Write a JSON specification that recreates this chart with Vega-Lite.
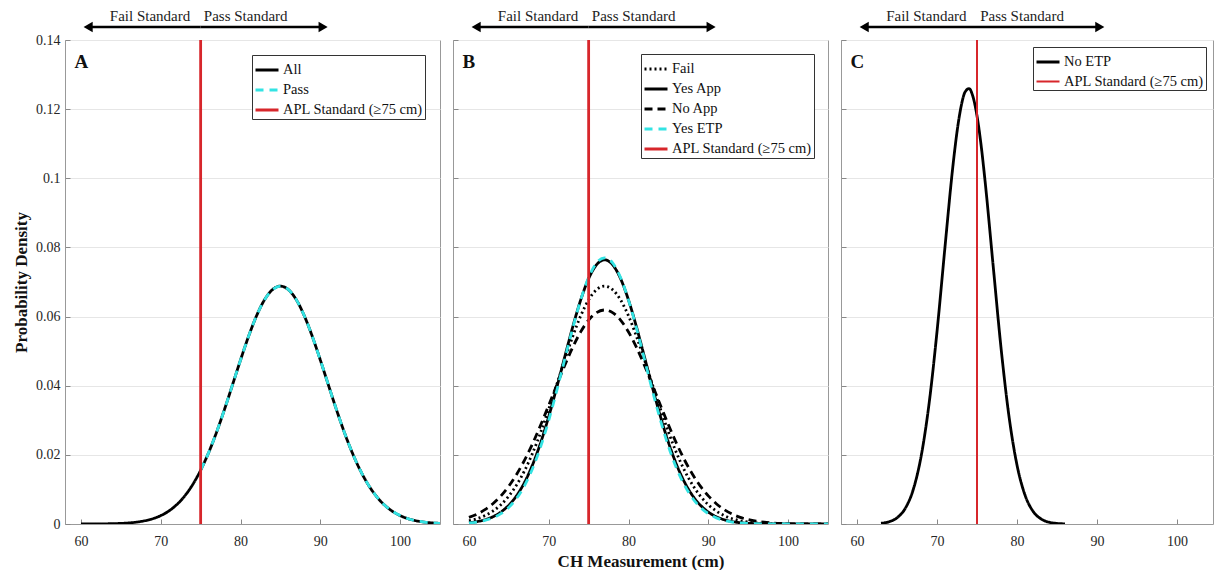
{
"$schema":"https://vega.github.io/schema/vega-lite/v6.json",
"autosize":{"type":"pad"},
"padding":{"left":12,"top":8,"right":0,"bottom":0},
"background":"white",
"datasets":{"one":[{}]},
"data":{"values":[
{"panel":"A","series":"All","x":60,"y":0.00001},{"panel":"A","series":"All","x":61,"y":0.000013},{"panel":"A","series":"All","x":62,"y":0.000026},{"panel":"A","series":"All","x":63,"y":0.000052},{"panel":"A","series":"All","x":64,"y":0.0001},{"panel":"A","series":"All","x":65,"y":0.00018},{"panel":"A","series":"All","x":66,"y":0.00032},{"panel":"A","series":"All","x":67,"y":0.00056},{"panel":"A","series":"All","x":68,"y":0.00094},{"panel":"A","series":"All","x":69,"y":0.00153},{"panel":"A","series":"All","x":70,"y":0.00243},{"panel":"A","series":"All","x":71,"y":0.00374},{"panel":"A","series":"All","x":72,"y":0.00558},{"panel":"A","series":"All","x":73,"y":0.00809},{"panel":"A","series":"All","x":74,"y":0.01139},{"panel":"A","series":"All","x":75,"y":0.01557},{"panel":"A","series":"All","x":76,"y":0.02064},{"panel":"A","series":"All","x":77,"y":0.02658},{"panel":"A","series":"All","x":78,"y":0.03322},{"panel":"A","series":"All","x":79,"y":0.0403},{"panel":"A","series":"All","x":80,"y":0.04744},{"panel":"A","series":"All","x":81,"y":0.05423},{"panel":"A","series":"All","x":82,"y":0.06018},{"panel":"A","series":"All","x":83,"y":0.06483},{"panel":"A","series":"All","x":84,"y":0.06778},{"panel":"A","series":"All","x":85,"y":0.0688},{"panel":"A","series":"All","x":86,"y":0.06778},{"panel":"A","series":"All","x":87,"y":0.06483},{"panel":"A","series":"All","x":88,"y":0.06018},{"panel":"A","series":"All","x":89,"y":0.05423},{"panel":"A","series":"All","x":90,"y":0.04744},{"panel":"A","series":"All","x":91,"y":0.0403},{"panel":"A","series":"All","x":92,"y":0.03322},{"panel":"A","series":"All","x":93,"y":0.02658},{"panel":"A","series":"All","x":94,"y":0.02064},{"panel":"A","series":"All","x":95,"y":0.01557},{"panel":"A","series":"All","x":96,"y":0.01139},{"panel":"A","series":"All","x":97,"y":0.00809},{"panel":"A","series":"All","x":98,"y":0.00558},{"panel":"A","series":"All","x":99,"y":0.00374},{"panel":"A","series":"All","x":100,"y":0.00243},{"panel":"A","series":"All","x":101,"y":0.00153},{"panel":"A","series":"All","x":102,"y":0.00094},{"panel":"A","series":"All","x":103,"y":0.00056},{"panel":"A","series":"All","x":104,"y":0.00032},{"panel":"A","series":"All","x":105,"y":0.00018},
{"panel":"A","series":"Pass","x":75,"y":0.01557},{"panel":"A","series":"Pass","x":76,"y":0.02064},{"panel":"A","series":"Pass","x":77,"y":0.02658},{"panel":"A","series":"Pass","x":78,"y":0.03322},{"panel":"A","series":"Pass","x":79,"y":0.0403},{"panel":"A","series":"Pass","x":80,"y":0.04744},{"panel":"A","series":"Pass","x":81,"y":0.05423},{"panel":"A","series":"Pass","x":82,"y":0.06018},{"panel":"A","series":"Pass","x":83,"y":0.06483},{"panel":"A","series":"Pass","x":84,"y":0.06778},{"panel":"A","series":"Pass","x":85,"y":0.0688},{"panel":"A","series":"Pass","x":86,"y":0.06778},{"panel":"A","series":"Pass","x":87,"y":0.06483},{"panel":"A","series":"Pass","x":88,"y":0.06018},{"panel":"A","series":"Pass","x":89,"y":0.05423},{"panel":"A","series":"Pass","x":90,"y":0.04744},{"panel":"A","series":"Pass","x":91,"y":0.0403},{"panel":"A","series":"Pass","x":92,"y":0.03322},{"panel":"A","series":"Pass","x":93,"y":0.02658},{"panel":"A","series":"Pass","x":94,"y":0.02064},{"panel":"A","series":"Pass","x":95,"y":0.01557},{"panel":"A","series":"Pass","x":96,"y":0.01139},{"panel":"A","series":"Pass","x":97,"y":0.00809},{"panel":"A","series":"Pass","x":98,"y":0.00558},{"panel":"A","series":"Pass","x":99,"y":0.00374},{"panel":"A","series":"Pass","x":100,"y":0.00243},{"panel":"A","series":"Pass","x":101,"y":0.00153},{"panel":"A","series":"Pass","x":102,"y":0.00094},{"panel":"A","series":"Pass","x":103,"y":0.00056},{"panel":"A","series":"Pass","x":104,"y":0.00032},{"panel":"A","series":"Pass","x":105,"y":0.00018},
{"panel":"A","series":"APL Standard (≥75 cm)","x":75,"y":0},{"panel":"A","series":"APL Standard (≥75 cm)","x":75,"y":0.14},
{"panel":"B","series":"Fail","x":60,"y":0.00094},{"panel":"B","series":"Fail","x":61,"y":0.00153},{"panel":"B","series":"Fail","x":62,"y":0.00243},{"panel":"B","series":"Fail","x":63,"y":0.00374},{"panel":"B","series":"Fail","x":64,"y":0.00558},{"panel":"B","series":"Fail","x":65,"y":0.00809},{"panel":"B","series":"Fail","x":66,"y":0.01139},{"panel":"B","series":"Fail","x":67,"y":0.01557},{"panel":"B","series":"Fail","x":68,"y":0.02064},{"panel":"B","series":"Fail","x":69,"y":0.02658},{"panel":"B","series":"Fail","x":70,"y":0.03322},{"panel":"B","series":"Fail","x":71,"y":0.0403},{"panel":"B","series":"Fail","x":72,"y":0.04744},{"panel":"B","series":"Fail","x":73,"y":0.05423},{"panel":"B","series":"Fail","x":74,"y":0.06018},{"panel":"B","series":"Fail","x":75,"y":0.06483},{"panel":"B","series":"Fail","x":76,"y":0.06778},{"panel":"B","series":"Fail","x":77,"y":0.0688},{"panel":"B","series":"Fail","x":78,"y":0.06778},{"panel":"B","series":"Fail","x":79,"y":0.06483},{"panel":"B","series":"Fail","x":80,"y":0.06018},{"panel":"B","series":"Fail","x":81,"y":0.05423},{"panel":"B","series":"Fail","x":82,"y":0.04744},{"panel":"B","series":"Fail","x":83,"y":0.0403},{"panel":"B","series":"Fail","x":84,"y":0.03322},{"panel":"B","series":"Fail","x":85,"y":0.02658},{"panel":"B","series":"Fail","x":86,"y":0.02064},{"panel":"B","series":"Fail","x":87,"y":0.01557},{"panel":"B","series":"Fail","x":88,"y":0.01139},{"panel":"B","series":"Fail","x":89,"y":0.00809},{"panel":"B","series":"Fail","x":90,"y":0.00558},{"panel":"B","series":"Fail","x":91,"y":0.00374},{"panel":"B","series":"Fail","x":92,"y":0.00243},{"panel":"B","series":"Fail","x":93,"y":0.00153},{"panel":"B","series":"Fail","x":94,"y":0.00094},{"panel":"B","series":"Fail","x":95,"y":0.00056},{"panel":"B","series":"Fail","x":96,"y":0.00032},{"panel":"B","series":"Fail","x":97,"y":0.00018},{"panel":"B","series":"Fail","x":98,"y":0.0001},{"panel":"B","series":"Fail","x":99,"y":0.00005},{"panel":"B","series":"Fail","x":100,"y":0.00003},
{"panel":"B","series":"Yes App","x":60,"y":0.00038},{"panel":"B","series":"Yes App","x":61,"y":0.0007},{"panel":"B","series":"Yes App","x":62,"y":0.00123},{"panel":"B","series":"Yes App","x":63,"y":0.00209},{"panel":"B","series":"Yes App","x":64,"y":0.00344},{"panel":"B","series":"Yes App","x":65,"y":0.00544},{"panel":"B","series":"Yes App","x":66,"y":0.0083},{"panel":"B","series":"Yes App","x":67,"y":0.01219},{"panel":"B","series":"Yes App","x":68,"y":0.01729},{"panel":"B","series":"Yes App","x":69,"y":0.02361},{"panel":"B","series":"Yes App","x":70,"y":0.03109},{"panel":"B","series":"Yes App","x":71,"y":0.03947},{"panel":"B","series":"Yes App","x":72,"y":0.04829},{"panel":"B","series":"Yes App","x":73,"y":0.05697},{"panel":"B","series":"Yes App","x":74,"y":0.06477},{"panel":"B","series":"Yes App","x":75,"y":0.07099},{"panel":"B","series":"Yes App","x":76,"y":0.07501},{"panel":"B","series":"Yes App","x":77,"y":0.0764},{"panel":"B","series":"Yes App","x":78,"y":0.07501},{"panel":"B","series":"Yes App","x":79,"y":0.07099},{"panel":"B","series":"Yes App","x":80,"y":0.06477},{"panel":"B","series":"Yes App","x":81,"y":0.05697},{"panel":"B","series":"Yes App","x":82,"y":0.04829},{"panel":"B","series":"Yes App","x":83,"y":0.03947},{"panel":"B","series":"Yes App","x":84,"y":0.03109},{"panel":"B","series":"Yes App","x":85,"y":0.02361},{"panel":"B","series":"Yes App","x":86,"y":0.01729},{"panel":"B","series":"Yes App","x":87,"y":0.01219},{"panel":"B","series":"Yes App","x":88,"y":0.0083},{"panel":"B","series":"Yes App","x":89,"y":0.00544},{"panel":"B","series":"Yes App","x":90,"y":0.00344},{"panel":"B","series":"Yes App","x":91,"y":0.00209},{"panel":"B","series":"Yes App","x":92,"y":0.00123},{"panel":"B","series":"Yes App","x":93,"y":0.0007},{"panel":"B","series":"Yes App","x":94,"y":0.00038},{"panel":"B","series":"Yes App","x":95,"y":0.0002},{"panel":"B","series":"Yes App","x":96,"y":0.0001},{"panel":"B","series":"Yes App","x":97,"y":0.00005},{"panel":"B","series":"Yes App","x":98,"y":0.00002},{"panel":"B","series":"Yes App","x":99,"y":0.00001},{"panel":"B","series":"Yes App","x":100,"y":0},{"panel":"B","series":"Yes App","x":105,"y":0},
{"panel":"B","series":"No App","x":60,"y":0.00192},{"panel":"B","series":"No App","x":61,"y":0.00285},{"panel":"B","series":"No App","x":62,"y":0.00414},{"panel":"B","series":"No App","x":63,"y":0.00587},{"panel":"B","series":"No App","x":64,"y":0.00812},{"panel":"B","series":"No App","x":65,"y":0.01096},{"panel":"B","series":"No App","x":66,"y":0.01446},{"panel":"B","series":"No App","x":67,"y":0.01861},{"panel":"B","series":"No App","x":68,"y":0.02338},{"panel":"B","series":"No App","x":69,"y":0.02869},{"panel":"B","series":"No App","x":70,"y":0.03435},{"panel":"B","series":"No App","x":71,"y":0.04016},{"panel":"B","series":"No App","x":72,"y":0.04584},{"panel":"B","series":"No App","x":73,"y":0.05107},{"panel":"B","series":"No App","x":74,"y":0.05556},{"panel":"B","series":"No App","x":75,"y":0.059},{"panel":"B","series":"No App","x":76,"y":0.06116},{"panel":"B","series":"No App","x":77,"y":0.0619},{"panel":"B","series":"No App","x":78,"y":0.06116},{"panel":"B","series":"No App","x":79,"y":0.059},{"panel":"B","series":"No App","x":80,"y":0.05556},{"panel":"B","series":"No App","x":81,"y":0.05107},{"panel":"B","series":"No App","x":82,"y":0.04584},{"panel":"B","series":"No App","x":83,"y":0.04016},{"panel":"B","series":"No App","x":84,"y":0.03435},{"panel":"B","series":"No App","x":85,"y":0.02869},{"panel":"B","series":"No App","x":86,"y":0.02338},{"panel":"B","series":"No App","x":87,"y":0.01861},{"panel":"B","series":"No App","x":88,"y":0.01446},{"panel":"B","series":"No App","x":89,"y":0.01096},{"panel":"B","series":"No App","x":90,"y":0.00812},{"panel":"B","series":"No App","x":91,"y":0.00587},{"panel":"B","series":"No App","x":92,"y":0.00414},{"panel":"B","series":"No App","x":93,"y":0.00285},{"panel":"B","series":"No App","x":94,"y":0.00192},{"panel":"B","series":"No App","x":95,"y":0.00126},{"panel":"B","series":"No App","x":96,"y":0.00081},{"panel":"B","series":"No App","x":97,"y":0.00051},{"panel":"B","series":"No App","x":98,"y":0.00031},{"panel":"B","series":"No App","x":99,"y":0.00018},{"panel":"B","series":"No App","x":100,"y":0.00011},{"panel":"B","series":"No App","x":101,"y":0.00006},{"panel":"B","series":"No App","x":102,"y":0.00003},{"panel":"B","series":"No App","x":103,"y":0.00002},{"panel":"B","series":"No App","x":104,"y":0.00001},{"panel":"B","series":"No App","x":105,"y":0},
{"panel":"B","series":"Yes ETP","x":60,"y":0.0003},{"panel":"B","series":"Yes ETP","x":61,"y":0.00056},{"panel":"B","series":"Yes ETP","x":62,"y":0.00102},{"panel":"B","series":"Yes ETP","x":63,"y":0.00178},{"panel":"B","series":"Yes ETP","x":64,"y":0.00299},{"panel":"B","series":"Yes ETP","x":65,"y":0.00483},{"panel":"B","series":"Yes ETP","x":66,"y":0.00751},{"panel":"B","series":"Yes ETP","x":67,"y":0.01126},{"panel":"B","series":"Yes ETP","x":68,"y":0.01622},{"panel":"B","series":"Yes ETP","x":69,"y":0.02249},{"panel":"B","series":"Yes ETP","x":70,"y":0.03001},{"panel":"B","series":"Yes ETP","x":71,"y":0.03853},{"panel":"B","series":"Yes ETP","x":72,"y":0.04761},{"panel":"B","series":"Yes ETP","x":73,"y":0.0566},{"panel":"B","series":"Yes ETP","x":74,"y":0.06477},{"panel":"B","series":"Yes ETP","x":75,"y":0.0713},{"panel":"B","series":"Yes ETP","x":76,"y":0.07554},{"panel":"B","series":"Yes ETP","x":77,"y":0.077},{"panel":"B","series":"Yes ETP","x":78,"y":0.07554},{"panel":"B","series":"Yes ETP","x":79,"y":0.0713},{"panel":"B","series":"Yes ETP","x":80,"y":0.06477},{"panel":"B","series":"Yes ETP","x":81,"y":0.0566},{"panel":"B","series":"Yes ETP","x":82,"y":0.04761},{"panel":"B","series":"Yes ETP","x":83,"y":0.03853},{"panel":"B","series":"Yes ETP","x":84,"y":0.03001},{"panel":"B","series":"Yes ETP","x":85,"y":0.02249},{"panel":"B","series":"Yes ETP","x":86,"y":0.01622},{"panel":"B","series":"Yes ETP","x":87,"y":0.01126},{"panel":"B","series":"Yes ETP","x":88,"y":0.00751},{"panel":"B","series":"Yes ETP","x":89,"y":0.00483},{"panel":"B","series":"Yes ETP","x":90,"y":0.00299},{"panel":"B","series":"Yes ETP","x":91,"y":0.00178},{"panel":"B","series":"Yes ETP","x":92,"y":0.00102},{"panel":"B","series":"Yes ETP","x":93,"y":0.00056},{"panel":"B","series":"Yes ETP","x":94,"y":0.0003},{"panel":"B","series":"Yes ETP","x":95,"y":0.00015},{"panel":"B","series":"Yes ETP","x":96,"y":0.00007},{"panel":"B","series":"Yes ETP","x":97,"y":0.00004},{"panel":"B","series":"Yes ETP","x":98,"y":0.00002},{"panel":"B","series":"Yes ETP","x":99,"y":0.00001},{"panel":"B","series":"Yes ETP","x":100,"y":0},{"panel":"B","series":"Yes ETP","x":105,"y":0},
{"panel":"B","series":"APL Standard (≥75 cm)","x":75,"y":0},{"panel":"B","series":"APL Standard (≥75 cm)","x":75,"y":0.14},
{"panel":"C","series":"No ETP","x":63,"y":0.00021},{"panel":"C","series":"No ETP","x":64,"y":0.00065},{"panel":"C","series":"No ETP","x":65,"y":0.00178},{"panel":"C","series":"No ETP","x":66,"y":0.0044},{"panel":"C","series":"No ETP","x":67,"y":0.00974},{"panel":"C","series":"No ETP","x":68,"y":0.01939},{"panel":"C","series":"No ETP","x":69,"y":0.03465},{"panel":"C","series":"No ETP","x":70,"y":0.05562},{"panel":"C","series":"No ETP","x":71,"y":0.08016},{"panel":"C","series":"No ETP","x":72,"y":0.10377},{"panel":"C","series":"No ETP","x":72.5,"y":0.1134},{"panel":"C","series":"No ETP","x":73,"y":0.12063},{"panel":"C","series":"No ETP","x":73.5,"y":0.12492},{"panel":"C","series":"No ETP","x":74,"y":0.12594},{"panel":"C","series":"No ETP","x":74.5,"y":0.12358},{"panel":"C","series":"No ETP","x":75,"y":0.11806},{"panel":"C","series":"No ETP","x":75.5,"y":0.1098},{"panel":"C","series":"No ETP","x":76,"y":0.0994},{"panel":"C","series":"No ETP","x":77,"y":0.07516},{"panel":"C","series":"No ETP","x":78,"y":0.05103},{"panel":"C","series":"No ETP","x":79,"y":0.03112},{"panel":"C","series":"No ETP","x":80,"y":0.01705},{"panel":"C","series":"No ETP","x":81,"y":0.00838},{"panel":"C","series":"No ETP","x":82,"y":0.0037},{"panel":"C","series":"No ETP","x":83,"y":0.00147},{"panel":"C","series":"No ETP","x":84,"y":0.00052},{"panel":"C","series":"No ETP","x":85,"y":0.00017},{"panel":"C","series":"No ETP","x":86,"y":0.00005},
{"panel":"C","series":"APL Standard (≥75 cm)","x":75,"y":0},{"panel":"C","series":"APL Standard (≥75 cm)","x":75,"y":0.14}
]},
"spacing":13,
"bounds":"flush",
"resolve":{"scale":{"color":"independent","strokeDash":"independent","strokeWidth":"independent","x":"independent","y":"independent"},"legend":{"color":"independent","strokeDash":"independent"}},
"hconcat":[
{"width":375,"height":484,
 "layer":[
  {"transform":[{"filter":"datum.panel==='A'"}],
   "mark":{"type":"line","interpolate":"monotone","clip":true},
   "encoding":{
    "x":{"field":"x","type":"quantitative","scale":{"domain":[58,105],"nice":false,"zero":false},"axis":{"values":[60,70,80,90,100],"title":null,"grid":false}},
    "y":{"field":"y","type":"quantitative","scale":{"domain":[0,0.14],"nice":false},"axis":{"values":[0,0.02,0.04,0.06,0.08,0.1,0.12,0.14],"format":"~g","title":"Probability Density","grid":true}},
    "color":{"field":"series","type":"nominal","sort":null,"scale":{"domain":["All","Pass","APL Standard (≥75 cm)"],"range":["#000000","#33e3e3","#d7262b"]},"legend":{"title":null,"offset":15}},
    "strokeDash":{"field":"series","type":"nominal","sort":null,"scale":{"domain":["All","Pass","APL Standard (≥75 cm)"],"range":[[1,0],[8,6],[1,0]]},"legend":{"title":null,"offset":15}},
    "strokeWidth":{"field":"series","type":"nominal","scale":{"domain":["All","Pass","APL Standard (≥75 cm)"],"range":[2.8,2.8,2]},"legend":null}
   }},
  {"data":{"name":"one"},"mark":{"type":"rule","strokeWidth":2.5,"color":"black"},"encoding":{"x":{"datum":75},"x2":{"datum":61.2},"y":{"datum":0.14376}}},
  {"data":{"name":"one"},"mark":{"type":"rule","strokeWidth":2.5,"color":"black"},"encoding":{"x":{"datum":75},"x2":{"datum":90},"y":{"datum":0.14376}}},
  {"data":{"name":"one"},"mark":{"type":"point","shape":"triangle-left","filled":true,"size":110,"color":"black","opacity":1},"encoding":{"x":{"datum":60.9},"y":{"datum":0.14376}}},
  {"data":{"name":"one"},"mark":{"type":"point","shape":"triangle-right","filled":true,"size":110,"color":"black","opacity":1},"encoding":{"x":{"datum":90.35},"y":{"datum":0.14376}}},
  {"data":{"name":"one"},"mark":{"type":"text","align":"right","baseline":"middle","font":"Liberation Serif","fontSize":15,"color":"#222"},"encoding":{"x":{"datum":73.7},"y":{"datum":0.14694},"text":{"value":"Fail Standard"}}},
  {"data":{"name":"one"},"mark":{"type":"text","align":"left","baseline":"middle","font":"Liberation Serif","fontSize":15,"color":"#222"},"encoding":{"x":{"datum":75.4},"y":{"datum":0.14694},"text":{"value":"Pass Standard"}}},
  {"data":{"name":"one"},"mark":{"type":"text","align":"left","baseline":"middle","font":"Liberation Serif","fontSize":19,"fontWeight":"bold","color":"#111"},"encoding":{"x":{"datum":59.2},"y":{"datum":0.1336},"text":{"value":"A"}}}
 ]},
{"width":375,"height":484,
 "layer":[
  {"transform":[{"filter":"datum.panel==='B'"}],
   "mark":{"type":"line","interpolate":"monotone","clip":true},
   "encoding":{
    "x":{"field":"x","type":"quantitative","scale":{"domain":[58,105],"nice":false,"zero":false},"axis":{"values":[60,70,80,90,100],"title":"CH Measurement (cm)","grid":false}},
    "y":{"field":"y","type":"quantitative","scale":{"domain":[0,0.14],"nice":false},"axis":{"values":[0,0.02,0.04,0.06,0.08,0.1,0.12,0.14],"labels":false,"title":null,"grid":true}},
    "color":{"field":"series","type":"nominal","sort":null,"scale":{"domain":["Fail","Yes App","No App","Yes ETP","APL Standard (≥75 cm)"],"range":["#000000","#000000","#000000","#33e3e3","#d7262b"]},"legend":{"title":null}},
    "strokeDash":{"field":"series","type":"nominal","sort":null,"scale":{"domain":["Fail","Yes App","No App","Yes ETP","APL Standard (≥75 cm)"],"range":[[2,3],[1,0],[8,5],[8,6],[1,0]]},"legend":{"title":null}},
    "strokeWidth":{"field":"series","type":"nominal","scale":{"domain":["Fail","Yes App","No App","Yes ETP","APL Standard (≥75 cm)"],"range":[2.8,2.8,2.8,2.8,2]},"legend":null}
   }},
  {"data":{"name":"one"},"mark":{"type":"rule","strokeWidth":2.5,"color":"black"},"encoding":{"x":{"datum":75},"x2":{"datum":61.2},"y":{"datum":0.14376}}},
  {"data":{"name":"one"},"mark":{"type":"rule","strokeWidth":2.5,"color":"black"},"encoding":{"x":{"datum":75},"x2":{"datum":90},"y":{"datum":0.14376}}},
  {"data":{"name":"one"},"mark":{"type":"point","shape":"triangle-left","filled":true,"size":110,"color":"black","opacity":1},"encoding":{"x":{"datum":60.9},"y":{"datum":0.14376}}},
  {"data":{"name":"one"},"mark":{"type":"point","shape":"triangle-right","filled":true,"size":110,"color":"black","opacity":1},"encoding":{"x":{"datum":90.35},"y":{"datum":0.14376}}},
  {"data":{"name":"one"},"mark":{"type":"text","align":"right","baseline":"middle","font":"Liberation Serif","fontSize":15,"color":"#222"},"encoding":{"x":{"datum":73.7},"y":{"datum":0.14694},"text":{"value":"Fail Standard"}}},
  {"data":{"name":"one"},"mark":{"type":"text","align":"left","baseline":"middle","font":"Liberation Serif","fontSize":15,"color":"#222"},"encoding":{"x":{"datum":75.4},"y":{"datum":0.14694},"text":{"value":"Pass Standard"}}},
  {"data":{"name":"one"},"mark":{"type":"text","align":"left","baseline":"middle","font":"Liberation Serif","fontSize":19,"fontWeight":"bold","color":"#111"},"encoding":{"x":{"datum":59.2},"y":{"datum":0.1336},"text":{"value":"B"}}}
 ]},
{"width":372,"height":484,
 "layer":[
  {"transform":[{"filter":"datum.panel==='C'"}],
   "mark":{"type":"line","interpolate":"monotone","clip":true},
   "encoding":{
    "x":{"field":"x","type":"quantitative","scale":{"domain":[58,104.5],"nice":false,"zero":false},"axis":{"values":[60,70,80,90,100],"title":null,"grid":false}},
    "y":{"field":"y","type":"quantitative","scale":{"domain":[0,0.14],"nice":false},"axis":{"values":[0,0.02,0.04,0.06,0.08,0.1,0.12,0.14],"labels":false,"title":null,"grid":true}},
    "color":{"field":"series","type":"nominal","sort":null,"scale":{"domain":["No ETP","APL Standard (≥75 cm)"],"range":["#000000","#d7262b"]},"legend":{"title":null,"offset":7}},
    "strokeDash":{"field":"series","type":"nominal","sort":null,"scale":{"domain":["No ETP","APL Standard (≥75 cm)"],"range":[[1,0],[1,0]]},"legend":{"title":null,"offset":7}},
    "strokeWidth":{"field":"series","type":"nominal","scale":{"domain":["No ETP","APL Standard (≥75 cm)"],"range":[2.8,2]},"legend":null}
   }},
  {"data":{"name":"one"},"mark":{"type":"rule","strokeWidth":2.5,"color":"black"},"encoding":{"x":{"datum":75},"x2":{"datum":61.2},"y":{"datum":0.14376}}},
  {"data":{"name":"one"},"mark":{"type":"rule","strokeWidth":2.5,"color":"black"},"encoding":{"x":{"datum":75},"x2":{"datum":90},"y":{"datum":0.14376}}},
  {"data":{"name":"one"},"mark":{"type":"point","shape":"triangle-left","filled":true,"size":110,"color":"black","opacity":1},"encoding":{"x":{"datum":60.9},"y":{"datum":0.14376}}},
  {"data":{"name":"one"},"mark":{"type":"point","shape":"triangle-right","filled":true,"size":110,"color":"black","opacity":1},"encoding":{"x":{"datum":90.35},"y":{"datum":0.14376}}},
  {"data":{"name":"one"},"mark":{"type":"text","align":"right","baseline":"middle","font":"Liberation Serif","fontSize":15,"color":"#222"},"encoding":{"x":{"datum":73.7},"y":{"datum":0.14694},"text":{"value":"Fail Standard"}}},
  {"data":{"name":"one"},"mark":{"type":"text","align":"left","baseline":"middle","font":"Liberation Serif","fontSize":15,"color":"#222"},"encoding":{"x":{"datum":75.4},"y":{"datum":0.14694},"text":{"value":"Pass Standard"}}},
  {"data":{"name":"one"},"mark":{"type":"text","align":"left","baseline":"middle","font":"Liberation Serif","fontSize":19,"fontWeight":"bold","color":"#111"},"encoding":{"x":{"datum":59.2},"y":{"datum":0.1336},"text":{"value":"C"}}}
 ]}
],
"config":{
 "font":"Liberation Serif",
 "view":{"stroke":"#999","strokeWidth":1},
 "axis":{"labelFont":"Liberation Serif","labelFontSize":14,"labelColor":"#262626","titleFont":"Liberation Serif","titleFontSize":17,"titleFontWeight":"bold","titleColor":"#111","domainColor":"#999","tickColor":"#888","tickSize":-5,"gridColor":"#e6e6e6"},
 "axisY":{"titlePadding":5,"labelPadding":10},
 "axisX":{"titlePadding":5,"labelPadding":15},
 "legend":{"orient":"top-right","offset":14,"strokeColor":"#333","fillColor":"white","padding":2,"labelFont":"Liberation Serif","labelFontSize":14.5,"labelColor":"#111","symbolType":"stroke","symbolSize":529,"symbolStrokeWidth":2.5,"rowPadding":-6.5,"labelOffset":3,"labelLimit":300}
}
}
